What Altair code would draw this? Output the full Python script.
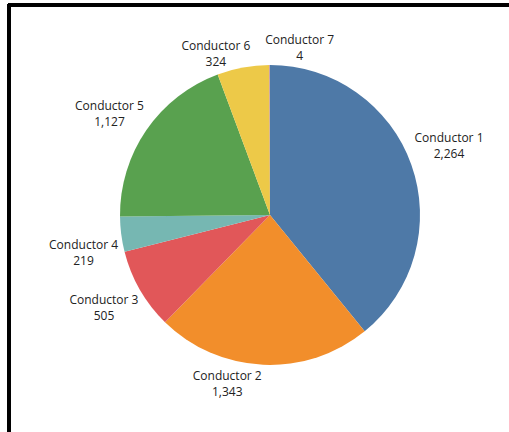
import altair as alt
import pandas as pd

names = ["Conductor 1", "Conductor 2", "Conductor 3", "Conductor 4",
         "Conductor 5", "Conductor 6", "Conductor 7"]
values = [2264, 1343, 505, 219, 1127, 324, 4]
colors = ["#4e79a7", "#f28e2b", "#e15759", "#76b7b2", "#59a14f", "#edc948", "#b07aa1"]

df = pd.DataFrame({"name": names, "value": values, "idx": list(range(len(names)))})

CX, CY = 270, 215

base = alt.Chart(df).transform_calculate(
    label="datum.name + '\\n' + format(datum.value, ',')"
).encode(
    theta=alt.Theta("value:Q", stack=True),
    order=alt.Order("idx:Q"),
    x=alt.value(CX),
    y=alt.value(CY),
)

arcs = base.mark_arc(outerRadius=150).encode(
    color=alt.Color("name:N", scale=alt.Scale(domain=names, range=colors), legend=None)
)

def label_layer(name, radius, dx=0, dy=0):
    return base.mark_text(
        radius=radius, dx=dx, dy=dy, font="Open Sans", fontSize=12,
        lineBreak="\n", lineHeight=16, color="#222222",
        align="center", baseline="middle",
    ).encode(
        text=alt.condition(f"datum.name == '{name}'", "label:N", alt.value(""))
    )

labels = [
    label_layer("Conductor 1", 190, 0, -13),
    label_layer("Conductor 2", 168, -35, -7),
    label_layer("Conductor 3", 188, -3, -9),
    label_layer("Conductor 4", 188, 0, 6),
    label_layer("Conductor 5", 190, -4, -1),
    label_layer("Conductor 6", 168, -24, -4),
    label_layer("Conductor 7", 170, 30, -5),
]

frame_top = alt.Chart(df).mark_rule(color="black", strokeWidth=3).encode(
    x=alt.value(8), x2=alt.value(509), y=alt.value(5)
)
frame_left = alt.Chart(df).mark_rule(color="black", strokeWidth=3).encode(
    x=alt.value(9), y=alt.value(4), y2=alt.value(432)
)

chart = alt.layer(arcs, *labels, frame_top, frame_left).properties(
    width=509, height=432,
    autosize=alt.AutoSizeParams(type="none"),
    padding=0,
    view=alt.ViewBackground(stroke=None, strokeWidth=0),
).configure(background="white").configure_view(stroke=None, strokeWidth=0)

chart.save("out.html", embed_options={"renderer": "svg", "actions": False})
